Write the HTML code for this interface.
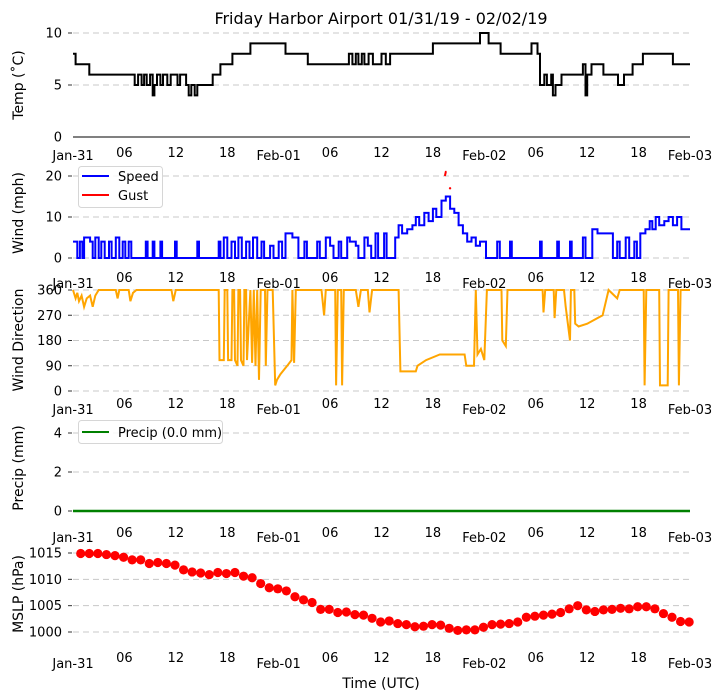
<!DOCTYPE html>
<html><head><meta charset="utf-8"><style>
html,body{margin:0;padding:0;background:#fff}
svg{display:block;font-family:"DejaVu Sans","Liberation Sans",sans-serif}
</style></head><body>
<svg id="chart" width="721" height="700" viewBox="0 0 721 700" xmlns="http://www.w3.org/2000/svg">
<text x="381" y="24" font-size="16" text-anchor="middle">Friday Harbor Airport 01/31/19 - 02/02/19</text>
</svg>
<script>
const xTickLabels=["Jan-31","06","12","18","Feb-01","06","12","18","Feb-02","06","12","18","Feb-03"];
const tempTimes=[0,0.3,1.9,7.2,7.6,8.0,8.3,8.6,9.0,9.3,9.5,9.8,10.2,10.5,11,11.4,12.2,12.5,13.2,13.5,13.8,14.2,14.5,16.3,17.2,18.6,20.7,24.8,27.4,32.2,32.6,33,33.3,33.7,34,34.5,35,36,36.5,37,42,47.5,48.5,49.9,53.5,54.2,54.5,55,55.3,55.8,56,56.3,57,59.5,59.8,60,60.5,61.9,63.6,64.3,65.3,66.5,70,72];
const tempVals=[8,7,6,5,6,5,6,5,6,4,5,6,5,6,5,6,5,6,5,4,5,4,5,6,7,8,9,8,7,8,7,8,7,8,7,8,7,8,7,8,9,10,9,8,9,8,5,6,5,6,4,5,6,7,4,6,7,6,5,6,7,8,7,7];
const speedTimes=[0,0.5,0.8,1.1,1.3,2,2.3,2.6,3,3.3,3.7,4.2,4.5,5,5.4,5.8,6.1,6.5,6.8,8.5,8.7,9.3,9.5,10.2,10.4,11.9,12.1,14.5,14.7,17,17.2,17.6,18,18.5,18.9,19.3,19.7,20.2,20.6,21,21.5,22,22.3,23,23.4,24,24.4,24.8,25.6,26.3,27,27.3,28.5,28.8,29.5,30,30.4,31,31.3,32,32.3,33,33.3,34,34.4,34.8,35.3,35.6,36.3,36.6,37.6,38,38.4,39,39.6,40,40.4,41,41.5,42,42.4,43,43.5,44,44.5,45,45.5,46,46.5,47,47.5,48.2,49.5,49.8,51,51.2,54.5,54.7,56.5,56.7,58,58.2,59.5,59.8,60.6,61.2,63,63.5,63.8,64.5,64.9,65.5,65.8,66.2,66.8,67.3,67.6,68,68.4,69,69.5,70,70.5,71,72];
const speedVals=[4,0,4,0,5,4,0,5,0,4,0,4,0,5,0,4,0,4,0,4,0,4,0,4,0,4,0,4,0,4,0,5,0,4,0,5,0,4,0,5,0,4,0,3,0,4,0,6,5,0,4,0,4,0,5,3,0,4,0,5,4,3,0,5,3,0,6,0,6,0,5,8,6,7,8,10,8,11,9,12,10,14,15,12,11,8,6,4,5,3,4,0,4,0,4,0,4,0,4,0,4,0,5,0,7,6,0,4,0,5,0,4,0,6,7,9,7,10,8,9,10,8,10,7,7];
const gustTimes=[43.4,43.5,43.6,44.0];
const gustVals=[20,21,21,17];
const dirTimes=[0,0.3,0.5,0.7,1,1.3,1.6,2,2.3,2.6,3,5,5.2,5.4,6.5,6.7,7,7.4,11.5,11.7,12,17,17.1,17.6,17.7,18,18.1,18.5,18.6,18.8,18.9,19.2,19.3,19.5,19.6,19.9,20,20.2,20.3,20.7,20.9,21.1,21.3,21.5,21.7,21.9,22.4,22.5,22.7,23.3,23.6,23.8,24.2,25,25.5,25.6,25.8,26,29,29.3,29.5,30.6,30.7,30.9,31.3,31.4,31.6,33,33.3,33.6,34.4,34.6,34.9,38,38.2,40,40.2,41.2,42.8,45.7,45.9,46.8,47,47.2,47.6,48,48.3,50,50.1,50.5,50.7,54.8,54.9,55.1,56.1,56.2,56.4,57.3,57.5,58,58.1,58.5,58.6,59,60,61.8,62.5,63.5,63.8,66.6,66.7,66.9,68.4,68.5,69.4,69.5,70.6,70.7,70.9,72];
const dirVals=[360,330,350,320,340,300,330,340,300,340,360,360,330,360,360,320,350,360,360,320,360,360,110,110,360,360,110,110,360,360,110,90,360,360,110,90,360,360,110,360,100,360,90,360,40,360,360,90,360,360,20,40,60,90,110,360,100,360,360,270,360,360,20,360,360,20,360,360,300,360,360,280,360,360,70,70,90,110,130,130,90,90,360,130,150,110,360,360,180,160,360,360,280,360,360,260,360,360,300,180,360,360,240,230,240,270,360,330,360,360,20,360,360,20,20,360,360,20,360,360];
const precipTimes=[0,72];
const precipVals=[0,0];
const mslpVals=[1014.9,1014.9,1014.9,1014.7,1014.5,1014.2,1013.7,1013.7,1013.0,1013.2,1013.0,1012.7,1011.8,1011.4,1011.2,1010.9,1011.3,1011.1,1011.3,1010.6,1010.3,1009.2,1008.4,1008.2,1007.8,1006.7,1006.1,1005.6,1004.3,1004.3,1003.7,1003.8,1003.3,1003.2,1002.6,1001.9,1002.1,1001.6,1001.4,1001.0,1001.1,1001.4,1001.3,1000.7,1000.3,1000.4,1000.4,1000.9,1001.4,1001.5,1001.6,1001.9,1002.8,1003.0,1003.2,1003.4,1003.7,1004.4,1005.0,1004.2,1003.9,1004.2,1004.3,1004.5,1004.4,1004.8,1004.8,1004.4,1003.5,1002.8,1002.0,1001.9];

const NS="http://www.w3.org/2000/svg";
const svg=document.getElementById('chart');
const X0=73,X1=690;
function xs(h){return X0+(X1-X0)*h/72;}
function mk(tag,attrs,parent){const e=document.createElementNS(NS,tag);for(const k in attrs)e.setAttribute(k,attrs[k]);(parent||svg).appendChild(e);return e;}
function panel(name,v0,y0,v1,y1,ticks,ylabel,labY,jY,nY){
  const g=mk('g',{});
  
  
  const ys=v=>y0+(y1-y0)*(v-v0)/(v1-v0);
  ticks.forEach(t=>{
    const y=ys(t);
    const gl=mk('line',{x1:X0,x2:X1,y1:y,y2:y,stroke:'#c8c8c8','stroke-dasharray':'6,4','stroke-width':1},g);
    
    
    mk('line',{x1:68,x2:72,y1:y,y2:y,stroke:'#333','stroke-width':1},g);
    const tl=mk('text',{x:62,y:y+4.5,'font-size':13,'text-anchor':'end'},g);
    tl.textContent=t;
    
    
  });
  const yl=mk('text',{x:0,y:0,'font-size':14,'text-anchor':'middle',transform:`translate(23,${labY}) rotate(-90)`},g);
  yl.textContent=ylabel;
  
  
  xTickLabels.forEach((lab,i)=>{
    const isDay=lab.indexOf('-')>0;
    const t=mk('text',{x:xs(i*6),y:isDay?jY:nY,'font-size':13,'text-anchor':'middle'},g);
    t.textContent=lab;
    
    
  });
  return {g,ys};
}
function stepPath(times,vals,ys){
  let d='M'+xs(times[0]).toFixed(1)+','+ys(vals[0]).toFixed(1);
  for(let i=1;i<times.length;i++){d+='H'+xs(times[i]).toFixed(1)+'V'+ys(vals[i]).toFixed(1);}
  return d;
}
function linePath(times,vals,ys){
  return times.map((t,i)=>(i?'L':'M')+xs(t).toFixed(1)+','+ys(vals[i]).toFixed(1)).join('');
}
// Temp
const p1=panel('temp',0,137,10,33,[5,10],'Temp (˚C)',85,160,157);
const zl=mk('line',{x1:X0,x2:X1,y1:137,y2:137,stroke:'#000','stroke-width':1},p1.g);


const z0=mk('text',{x:62,y:141.5,'font-size':13,'text-anchor':'end'},p1.g);z0.textContent='0';
const tp=mk('path',{d:stepPath(tempTimes,tempVals,p1.ys),fill:'none',stroke:'#000','stroke-width':2},p1.g);


// Wind
const p2=panel('wind',0,258,20,176,[0,10,20],'Wind (mph)',213,288,282);
const sp=mk('path',{d:stepPath(speedTimes,speedVals,p2.ys),fill:'none',stroke:'#0000ff','stroke-width':2},p2.g);


const gp=mk('path',{d:linePath(gustTimes.slice(0,3),gustVals.slice(0,3),p2.ys),fill:'none',stroke:'#ff0000','stroke-width':2},p2.g);


const gd=mk('circle',{cx:xs(gustTimes[3]),cy:p2.ys(gustVals[3]),r:1.2,fill:'#ff0000'},p2.g);


const lg=mk('g',{},p2.g);


mk('rect',{x:78.5,y:166.5,width:84,height:41,rx:3,fill:'#fff','fill-opacity':0.85,stroke:'#d6d6d6'},lg);
mk('line',{x1:82,x2:109,y1:176,y2:176,stroke:'#0000ff','stroke-width':2},lg);
mk('line',{x1:82,x2:109,y1:195,y2:195,stroke:'#ff0000','stroke-width':2},lg);
const ls=mk('text',{x:118,y:181,'font-size':13},lg);ls.textContent='Speed';


const lgu=mk('text',{x:118,y:200,'font-size':13},lg);lgu.textContent='Gust';


// Direction
const p3=panel('direction',0,391,360,290,[0,90,180,270,360],'Wind Direction',340,414,408);
const dp=mk('path',{d:linePath(dirTimes,dirVals,p3.ys),fill:'none',stroke:'#ffa500','stroke-width':2},p3.g);


// Precip
const p4=panel('precip',0,511,4,433,[0,2,4],'Precip (mm)',468,542,537);
const pp=mk('path',{d:linePath(precipTimes,precipVals,p4.ys),fill:'none',stroke:'#008000','stroke-width':2.5},p4.g);


const lg4=mk('g',{},p4.g);


mk('rect',{x:78.5,y:420.5,width:144,height:23,rx:3,fill:'#fff','fill-opacity':0.85,stroke:'#d6d6d6'},lg4);
mk('line',{x1:82,x2:109,y1:432,y2:432,stroke:'#008000','stroke-width':2},lg4);
const lp=mk('text',{x:118,y:437,'font-size':13},lg4);lp.textContent='Precip (0.0 mm)';


// MSLP
const p5=panel('mslp',1000,632,1015,553,[1000,1005,1010,1015],'MSLP (hPa)',594,668,662);
mslpVals.forEach((v,i)=>{
  const c=mk('circle',{cx:xs(0.9+i),cy:p5.ys(v),r:4.6,fill:'#ff0000'},p5.g);
  
  
});
const xt=mk('text',{x:381,y:688,'font-size':14,'text-anchor':'middle'});
xt.textContent='Time (UTC)';


</script>
</body></html>
